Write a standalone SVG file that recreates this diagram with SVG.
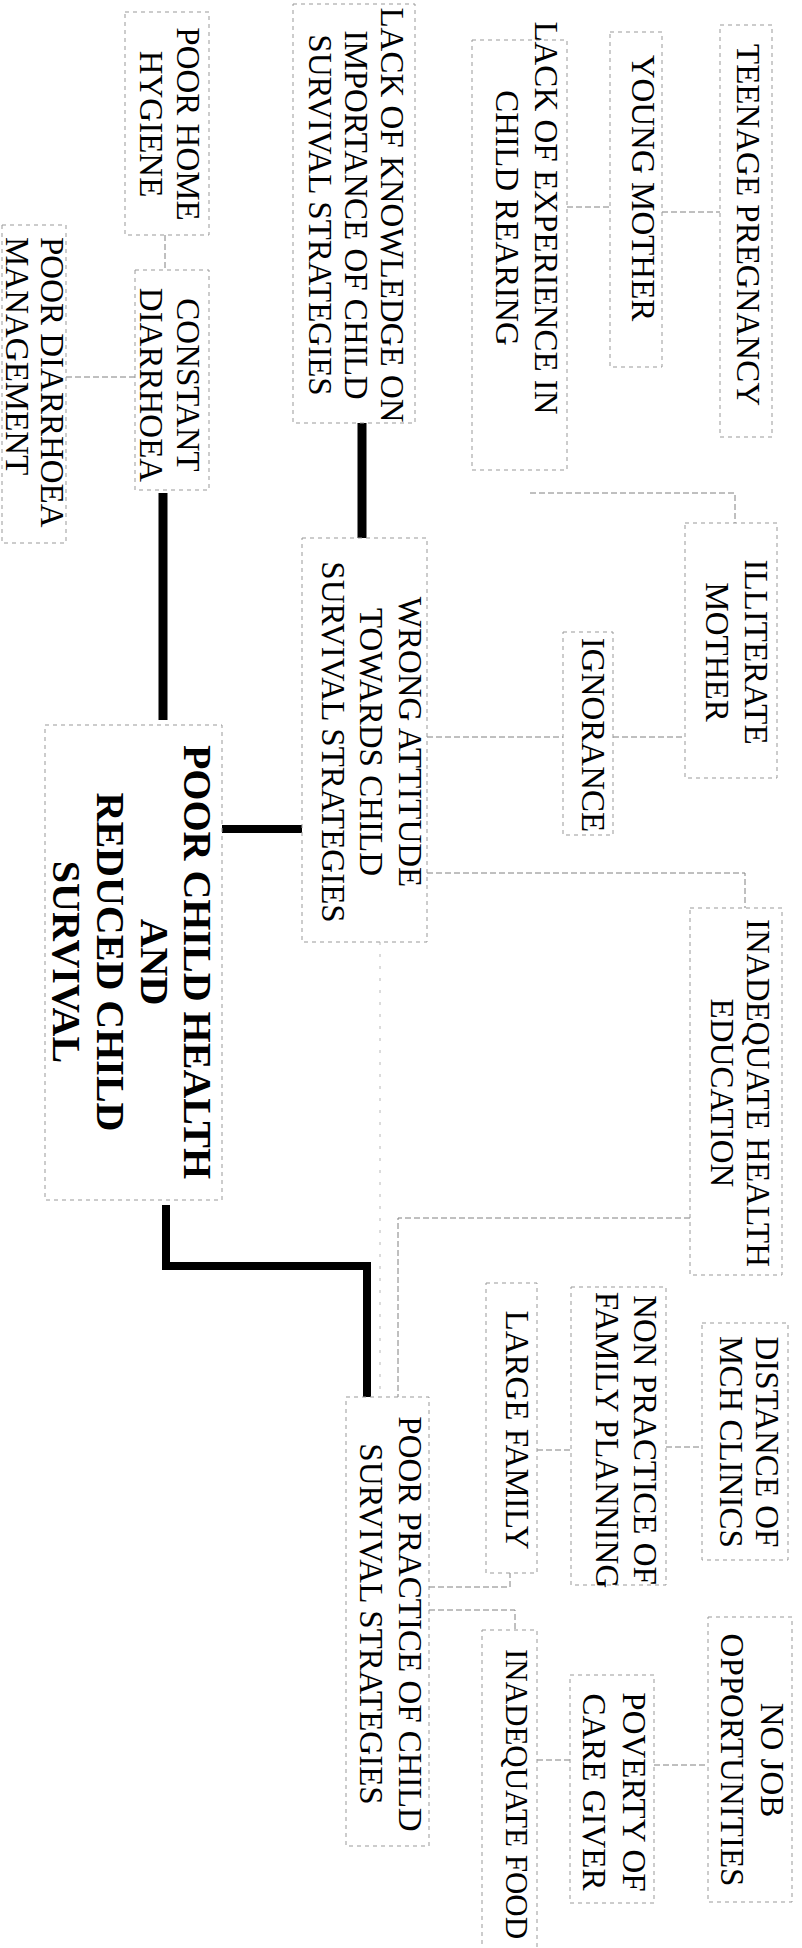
<svg xmlns="http://www.w3.org/2000/svg" width="802" height="1948" viewBox="0 0 802 1948">
<style>
.box{fill:none;stroke:#999;stroke-width:1;stroke-dasharray:4 4}
.conn{fill:none;stroke:#808080;stroke-width:1;stroke-dasharray:6 3}
.faint{fill:none;stroke:#b8b8b8;stroke-width:1;stroke-dasharray:3 9}
.thick{fill:none;stroke:#000;stroke-width:9;stroke-linejoin:miter}
.t{font-family:"Liberation Serif","Times New Roman",serif;font-size:33px;fill:#000;text-anchor:middle}
.s{text-anchor:start}
.b{font-weight:bold;font-size:40px}
</style>
<rect width="802" height="1948" fill="#fff"/>
<g id="connectors">
<line class="conn" x1="662" y1="212" x2="720" y2="212"/>
<line class="conn" x1="567" y1="207" x2="610" y2="207"/>
<polyline class="conn" points="530,493 735,493 735,523"/>
<line class="conn" x1="427" y1="737" x2="563" y2="737"/>
<line class="conn" x1="613" y1="737" x2="685" y2="737"/>
<polyline class="conn" points="427,873 745,873 745,908"/>
<polyline class="conn" points="690,1218 398,1218 398,1397"/>
<line class="faint" x1="380" y1="942" x2="380" y2="1397"/>
<line class="conn" x1="666" y1="1447" x2="702" y2="1447"/>
<line class="conn" x1="537" y1="1450" x2="571" y2="1450"/>
<polyline class="conn" points="429,1587 510,1587 510,1573"/>
<polyline class="conn" points="429,1610 515,1610 515,1630"/>
<line class="conn" x1="537" y1="1760" x2="570" y2="1760"/>
<line class="conn" x1="654" y1="1765" x2="708" y2="1765"/>
<line class="conn" x1="165" y1="235" x2="165" y2="270"/>
<line class="conn" x1="66" y1="377" x2="135" y2="377"/>
<line class="thick" x1="362" y1="423" x2="362" y2="538"/>
<line class="thick" x1="163" y1="493" x2="163" y2="720"/>
<line class="thick" x1="222" y1="829" x2="302" y2="829" style="stroke-width:8"/>
<polyline class="thick" points="166,1205 166,1266 367,1266 367,1397" style="stroke-width:8"/>
</g>
<g id="n_teenage">
<rect class="box" x="720" y="25" width="52" height="412"/>
<text class="t" transform="translate(748,225) rotate(90)" y="11">TEENAGE PREGNANCY</text>
</g>
<g id="n_young">
<rect class="box" x="610" y="32" width="52" height="335"/>
<text class="t" transform="translate(643,188) rotate(90)" y="11">YOUNG MOTHER</text>
</g>
<g id="n_lackexp">
<rect class="box" x="472" y="40" width="95" height="430"/>
<text class="t" transform="translate(546,218) rotate(90)" y="11">LACK OF EXPERIENCE IN</text>
<text class="t" transform="translate(507,218) rotate(90)" y="11">CHILD REARING</text>
</g>
<g id="n_lackknow">
<rect class="box" x="293" y="4" width="122" height="419"/>
<text class="t" transform="translate(392,215) rotate(90)" y="11">LACK OF KNOWLEDGE ON</text>
<text class="t" transform="translate(356,215) rotate(90)" y="11">IMPORTANCE OF CHILD</text>
<text class="t" transform="translate(320,215) rotate(90)" y="11">SURVIVAL STRATEGIES</text>
</g>
<g id="n_poorhome">
<rect class="box" x="125" y="12" width="84" height="223"/>
<text class="t" transform="translate(188,124) rotate(90)" y="11">POOR HOME</text>
<text class="t" transform="translate(151,124) rotate(90)" y="11">HYGIENE</text>
</g>
<g id="n_constant">
<rect class="box" x="135" y="270" width="74" height="220"/>
<text class="t" transform="translate(188,385) rotate(90)" y="11">CONSTANT</text>
<text class="t" transform="translate(151,385) rotate(90)" y="11">DIARRHOEA</text>
</g>
<g id="n_poordiarr">
<rect class="box" x="2" y="225" width="64" height="318"/>
<text class="t s" transform="translate(52,237) rotate(90)" y="11">POOR DIARRHOEA</text>
<text class="t s" transform="translate(17,237) rotate(90)" y="11">MANAGEMENT</text>
</g>
<g id="n_wrong">
<rect class="box" x="302" y="538" width="125" height="404"/>
<text class="t" transform="translate(410,742) rotate(90)" y="11">WRONG ATTITUDE</text>
<text class="t" transform="translate(371,742) rotate(90)" y="11">TOWARDS CHILD</text>
<text class="t" transform="translate(333,742) rotate(90)" y="11">SURVIVAL STRATEGIES</text>
</g>
<g id="n_ignorance">
<rect class="box" x="563" y="632" width="50" height="203"/>
<text class="t" transform="translate(593,735) rotate(90)" y="11">IGNORANCE</text>
</g>
<g id="n_illiterate">
<rect class="box" x="685" y="523" width="92" height="255"/>
<text class="t" transform="translate(756,652) rotate(90)" y="11">ILLITERATE</text>
<text class="t" transform="translate(717,652) rotate(90)" y="11">MOTHER</text>
</g>
<g id="n_inadeq">
<rect class="box" x="690" y="908" width="92" height="367"/>
<text class="t" transform="translate(758,1093) rotate(90)" y="11">INADEQUATE HEALTH</text>
<text class="t" transform="translate(722,1093) rotate(90)" y="11">EDUCATION</text>
</g>
<g id="n_central">
<rect class="box" x="45" y="725" width="177" height="475"/>
<text class="t b" transform="translate(197,962) rotate(90)" y="13">POOR CHILD HEALTH</text>
<text class="t b" transform="translate(154,962) rotate(90)" y="13">AND</text>
<text class="t b" transform="translate(110,962) rotate(90)" y="13">REDUCED CHILD</text>
<text class="t b" transform="translate(66,962) rotate(90)" y="13">SURVIVAL</text>
</g>
<g id="n_poorpractice">
<rect class="box" x="346" y="1397" width="83" height="449"/>
<text class="t" transform="translate(410,1624) rotate(90)" y="11">POOR PRACTICE OF CHILD</text>
<text class="t" transform="translate(371,1624) rotate(90)" y="11">SURVIVAL STRATEGIES</text>
</g>
<g id="n_distance">
<rect class="box" x="702" y="1323" width="86" height="237"/>
<text class="t" transform="translate(767,1442) rotate(90)" y="11">DISTANCE OF</text>
<text class="t" transform="translate(731,1442) rotate(90)" y="11">MCH CLINICS</text>
</g>
<g id="n_nonpractice">
<rect class="box" x="571" y="1287" width="95" height="298"/>
<text class="t" transform="translate(645,1440) rotate(90)" y="11">NON PRACTICE OF</text>
<text class="t" transform="translate(607,1440) rotate(90)" y="11">FAMILY PLANNING</text>
</g>
<g id="n_large">
<rect class="box" x="486" y="1283" width="51" height="290"/>
<text class="t" transform="translate(517,1430) rotate(90)" y="11">LARGE FAMILY</text>
</g>
<g id="n_nojob">
<rect class="box" x="708" y="1617" width="84" height="285"/>
<text class="t" transform="translate(772,1760) rotate(90)" y="11">NO JOB</text>
<text class="t" transform="translate(732,1760) rotate(90)" y="11">OPPORTUNITIES</text>
</g>
<g id="n_poverty">
<rect class="box" x="570" y="1675" width="84" height="228"/>
<text class="t" transform="translate(634,1792) rotate(90)" y="11">POVERTY OF</text>
<text class="t" transform="translate(594,1792) rotate(90)" y="11">CARE GIVER</text>
</g>
<g id="n_inadfood">
<rect class="box" x="482" y="1630" width="55" height="330"/>
<text class="t" transform="translate(517,1794) rotate(90)" y="11" style="font-size:31px">INADEQUATE FOOD</text>
</g>
</svg>
